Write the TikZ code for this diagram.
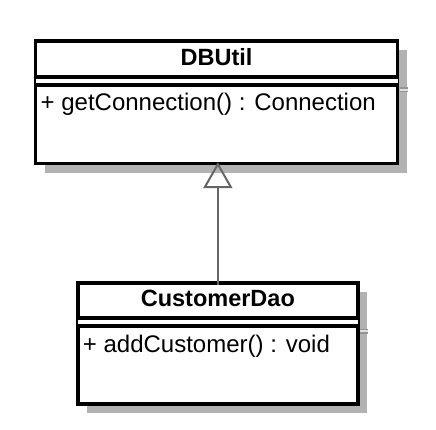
\documentclass[tikz,border=0pt]{standalone}
\usepackage{fontspec}
\setmainfont{Liberation Sans}
\usetikzlibrary{arrows.meta,shadows}
\begin{document}
\begin{tikzpicture}
  [x=1pt, y=-1pt,
   classN/.style={draw,line width=3.7pt,outer sep=0pt,fill=white,
     drop shadow={shadow xshift=9pt,shadow yshift=-9pt,opacity=1,fill=black!30}},
   nameN/.style={font=\fontsize{23.5}{28}\selectfont\bfseries,anchor=base,inner sep=0pt},
   methN/.style={font=\fontsize{24}{28}\selectfont,anchor=base west,inner sep=0pt},
   sepLine/.style={line width=3.7pt,double=white,double distance=4.5pt},
   seamLine/.style={draw=black!42,line width=1.5pt,double=black!12,double distance=2pt},
   genArrow/.style={draw=black!60,line width=2pt,
     -{Triangle[open,length=26pt,width=29pt,line width=2pt]}},
  ]
  \useasboundingbox (0,0) rectangle (436,430);

  % classes
  \node[classN,minimum width=362pt,minimum height=122.7pt] (dbutil) at (216.5,102.3) {};
  \node[classN,minimum width=280.3pt,minimum height=120.4pt] (customerDao) at (217.85,343.5) {};

  % shadow seams
  \draw[seamLine] ([xshift=2pt,yshift=-49pt]dbutil.north east) -- ++(8,0);
  \draw[seamLine] ([xshift=2pt,yshift=-48pt]customerDao.north east) -- ++(8,0);

  % DBUtil
  \node[nameN] (dbutilName) at ([yshift=-24.5pt]dbutil.north) {DBUtil};
  \draw[sepLine] ([yshift=-40pt]dbutil.north west) -- ([yshift=-40pt]dbutil.north east);
  \node[methN] (dbutilGet) at ([xshift=5pt,yshift=-70pt]dbutil.north west) {+ getConnection() : Connection};

  % CustomerDao
  \node[nameN] (customerDaoName) at ([yshift=-23.5pt]customerDao.north) {CustomerDao};
  \draw[sepLine] ([yshift=-38.7pt]customerDao.north west) -- ([yshift=-38.7pt]customerDao.north east);
  \node[methN] (customerDaoAdd) at ([xshift=5pt,yshift=-69pt]customerDao.north west) {+ addCustomer() : void};

  % generalization
  \draw[genArrow] ([yshift=-2pt]customerDao.north) -- ([yshift=1.5pt]customerDao.north |- dbutil.south);
\end{tikzpicture}
\end{document}
